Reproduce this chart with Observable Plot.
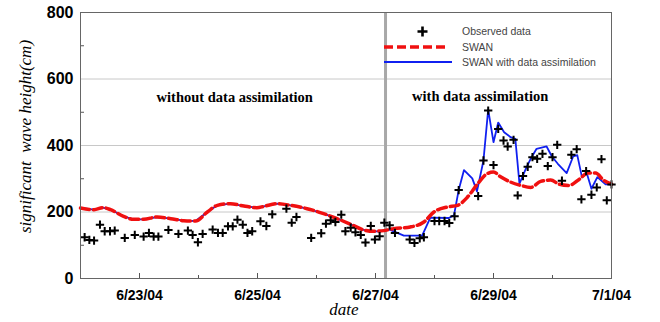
<!DOCTYPE html>
<html><head><meta charset="utf-8">
<script src="https://cdn.jsdelivr.net/npm/d3@7"></script>
<script src="https://cdn.jsdelivr.net/npm/@observablehq/plot@0.6"></script>
<style>
body{margin:0;background:#fff}
#wrap{position:relative;width:660px;height:322px;overflow:hidden}
#legend{position:absolute;left:0;top:0;pointer-events:none}
</style></head><body><div id="wrap"></div>
<script>
// time in days since 2004-06-22 00:00 UTC
const startDate = "2004-06-22";
const obsDay = [0.07,0.15,0.23,0.33,0.41,0.50,0.58,0.75,0.92,1.07,1.16,1.24,1.32,1.49,1.66,1.82,1.90,1.99,2.07,2.24,2.33,2.41,2.50,2.58,2.66,2.75,2.83,2.91,3.05,3.15,3.25,3.49,3.58,3.66,3.91,4.08,4.16,4.24,4.32,4.42,4.49,4.58,4.66,4.75,4.83,4.92,4.99,5.07,5.15,5.24,5.33,5.58,5.66,5.75,5.82,6.00,6.08,6.17,6.25,6.34,6.41,6.74,6.83,6.91,7.00,7.08,7.17,7.24,7.34,7.41,7.50,7.58,7.66,7.74,7.83,7.92,8.00,8.08,8.16,8.32,8.41,8.49,8.57,8.66,8.75,8.83,8.92,9.00];
const obsVal = [124,116,114,162,142,142,144,122,131,126,137,126,126,146,134,144,131,109,134,147,137,137,157,157,177,162,137,142,172,158,193,210,168,185,122,136,165,175,170,192,142,153,139,131,108,158,117,127,168,160,137,117,107,121,124,173,173,173,167,187,266,248,355,505,341,450,415,397,417,250,308,336,365,360,375,338,365,402,294,372,389,238,323,252,274,359,235,283];

// common part (both simulations coincide before assimilation starts)
const commonDay = [0.00,0.23,0.38,0.51,0.73,0.90,1.07,1.30,1.53,1.75,1.95,2.15,2.32,2.54,2.77,2.99,3.11,3.33,3.56,3.84,4.12,4.35,4.58,4.80,4.97];
const commonVal = [212,207,213,207,187,178,178,185,180,174,173,200,220,225,218,213,217,225,220,210,195,180,163,146,142];

const swanDay = [5.14,5.31,5.59,5.82,5.99,6.22,6.39,6.55,6.72,6.89,7.00,7.12,7.29,7.46,7.63,7.80,7.97,8.11,8.28,8.45,8.60,8.73,8.87,9.00];
const swanVal = [144,150,155,170,200,215,220,243,282,315,320,306,290,280,274,292,296,284,280,298,317,317,295,284];

const daDay = [5.08,5.24,5.48,5.79,5.93,6.24,6.33,6.41,6.50,6.64,6.72,6.83,6.91,7.00,7.08,7.18,7.29,7.37,7.44,7.56,7.63,7.73,7.90,7.99,8.09,8.24,8.35,8.42,8.50,8.58,8.66,8.76,8.90,9.00];
const daVal = [142,147,129,129,183,182,190,266,326,301,262,355,508,410,469,440,425,420,285,335,360,390,397,367,345,317,367,371,304,317,270,305,283,283];

const yTicks = [0,200,400,600,800];
const yMinor = [100,300,500,700];
const xLabelDays = [1,3,5,7,9];
const xAllDays = [1,2,3,4,5,6,7,8,9];
const switchDay = 5.17;
const notes = [{day:1.29, val:545, text:"without data assimilation"},{day:5.62, val:549, text:"with data assimilation"}];

const t0 = Date.parse(startDate + "T00:00:00Z");
const toDate = d => new Date(t0 + d * 864e5);
const obs = obsDay.map((d,i)=>({t:toDate(d), v:obsVal[i]}));
const swanV = commonVal.concat(swanVal), daV = commonVal.concat(daVal);
const swan = commonDay.concat(swanDay).map((d,i)=>({t:toDate(d), v:swanV[i]}));
const da = commonDay.concat(daDay).map((d,i)=>({t:toDate(d), v:daV[i]}));
const fmt = d3.utcFormat("%-m/%-d/%y");
const sans = "'Liberation Sans', Arial, sans-serif";
const serif = "'Liberation Serif', 'Times New Roman', serif";

const chart = Plot.plot({
  width: 660, height: 322,
  marginLeft: 80, marginRight: 49, marginTop: 12, marginBottom: 44,
  style: {fontFamily: sans, background: "#fff"},
  x: {type: "utc", domain: [toDate(0), toDate(9)]},
  y: {domain: [0, 800]},
  marks: [
    Plot.gridY([200,400,600], {stroke: "#c8c8c8", strokeOpacity: 1}),
    Plot.axisY({ticks: yTicks, tickSize: 0, tickPadding: 7, fontSize: 16, fontWeight: "bold", fill: "#000", label: null}),
    Plot.axisY({ticks: yMinor, tickSize: 4, dx: 4, text: null, stroke: "#555", label: null}),
    Plot.axisX({ticks: xLabelDays.map(toDate), tickSize: 0, tickPadding: 12, tickFormat: fmt, fontSize: 14, fontWeight: "bold", fill: "#000", label: null}),
    Plot.axisX({ticks: xAllDays.map(toDate), tickSize: 3, dy: -3, text: null, stroke: "#555", label: null}),
    Plot.axisX({ticks: xLabelDays.map(toDate), tickSize: 5, dy: -5, text: null, stroke: "#555", label: null}),
    Plot.ruleX([toDate(switchDay)], {y1: 0, y2: 800, stroke: "#a8a8a8", strokeWidth: 3}),
    Plot.line(da, {x: "t", y: "v", stroke: "#1020f0", strokeWidth: 1.8}),
    Plot.line(swan, {x: "t", y: "v", stroke: "#f01010", strokeWidth: 3.5, strokeDasharray: "9,4", curve: "monotone-x"}),
    Plot.dot(obs, {x: "t", y: "v", symbol: "plus", r: 2.8, stroke: "#000", strokeWidth: 2}),
    Plot.text(notes, {x: d => toDate(d.day), y: "val", text: "text", textAnchor: "start", fontFamily: serif, fontWeight: "bold", fontSize: 14.5, fill: "#000"}),
    Plot.text(["significant\u00a0 wave height(cm)"], {frameAnchor: "left", textAnchor: "middle", dx: -55, dy: -9, rotate: -90, fontFamily: serif, fontStyle: "italic", fontSize: 17, fill: "#000"}),
    Plot.text(["date"], {frameAnchor: "bottom", textAnchor: "middle", dy: 36, dx: -2, fontFamily: serif, fontStyle: "italic", fontSize: 17, fill: "#000"}),
    Plot.frame({stroke: "#666"})
  ]
});
const wrap = document.getElementById("wrap");
wrap.appendChild(chart);

// legend (inside plot, top right)
const legendItems = ["Observed data", "SWAN", "SWAN with data assimilation"];
const lg = d3.select(wrap).append("svg").attr("id","legend").attr("width",660).attr("height",322);
lg.append("path").attr("d","M417.5,31.5h10M422.5,26.5v10").attr("stroke","#000").attr("stroke-width",2.6);
lg.append("line").attr("x1",384).attr("x2",448).attr("y1",47).attr("y2",47).attr("stroke","#f01010").attr("stroke-width",3.5).attr("stroke-dasharray","9,4");
lg.append("line").attr("x1",384).attr("x2",452).attr("y1",62).attr("y2",62).attr("stroke","#1020f0").attr("stroke-width",1.8);
lg.selectAll("text.l").data(legendItems).join("text").attr("class","l")
  .attr("x",462).attr("y",(d,i)=>[31,47,62][i]).attr("dy","0.35em")
  .attr("font-family",sans).attr("font-size",10.5).attr("fill","#444").text(d=>d);
</script></body></html>
